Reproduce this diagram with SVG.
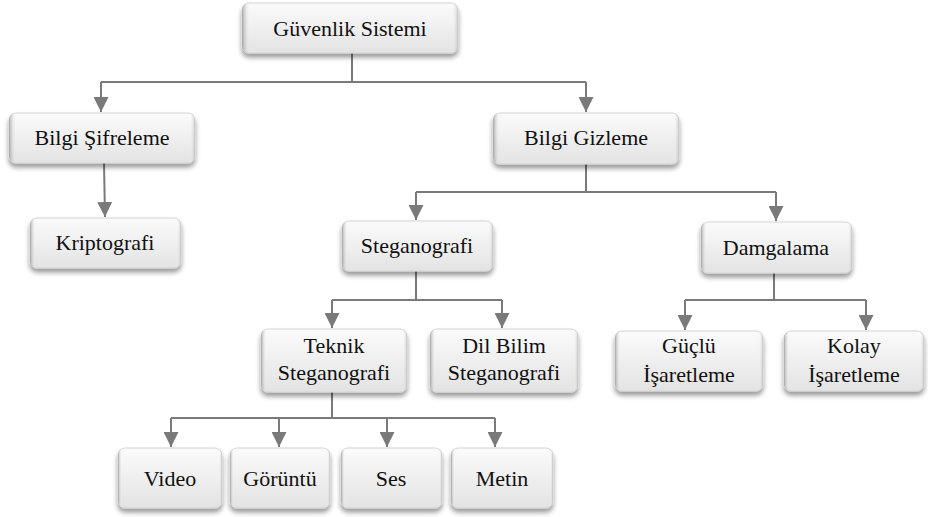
<svg xmlns="http://www.w3.org/2000/svg" width="928" height="517" viewBox="0 0 928 517">
<style>
.box{fill:url(#gv);stroke:#d4d4d4;stroke-width:1;filter:url(#sh)}
.bev{fill:url(#gh);stroke:none}
.t{font-family:"Liberation Serif","Times New Roman",serif;font-size:22px;fill:#111;text-anchor:middle}
.c{fill:none;stroke:#7a7a7a;stroke-width:2}
.a{marker-end:url(#ah)}
</style>
<defs>
<linearGradient id="gv" x1="0" y1="0" x2="0" y2="1">
<stop offset="0" stop-color="#fbfbfb"/>
<stop offset="1" stop-color="#e3e3e3"/>
</linearGradient>
<linearGradient id="gh" x1="0" y1="0" x2="1" y2="0">
<stop offset="0" stop-color="#8c8c8c" stop-opacity="0.7"/>
<stop offset="0.04" stop-color="#ffffff" stop-opacity="0"/>
<stop offset="0.97" stop-color="#ffffff" stop-opacity="0"/>
<stop offset="1" stop-color="#a0a0a0" stop-opacity="0.45"/>
</linearGradient>
<filter id="sh" x="-10%" y="-20%" width="120%" height="150%">
<feGaussianBlur in="SourceAlpha" stdDeviation="2.5"/>
<feOffset dx="0" dy="4" result="b"/>
<feComponentTransfer><feFuncA type="linear" slope="0.4"/></feComponentTransfer>
<feMerge><feMergeNode/><feMergeNode in="SourceGraphic"/></feMerge>
</filter>
<marker id="ah" viewBox="0 0 14 14" refX="14" refY="7" markerWidth="15" markerHeight="15" markerUnits="userSpaceOnUse" orient="auto">
<path d="M0,0 L14,7 L0,14 z" fill="#7a7a7a"/>
</marker>
</defs>

<g id="connectors">
<path class="c" d="M352 53 V82 M101 82 H586"/>
<path class="c a" d="M101 82 V112"/>
<path class="c a" d="M586 82 V112"/>
<path class="c a" d="M104 163 L105 217"/>
<path class="c" d="M586 164 V192 M416 192 H776"/>
<path class="c a" d="M416 192 V220"/>
<path class="c a" d="M776 192 V221"/>
<path class="c" d="M416 271 V300 M332 300 H502"/>
<path class="c a" d="M332 300 V328"/>
<path class="c a" d="M502 300 V328"/>
<path class="c" d="M774 273 V300 M685 300 H866"/>
<path class="c a" d="M685 300 V330"/>
<path class="c a" d="M866 300 V330"/>
<path class="c" d="M332 392 V418 M171 418 H495"/>
<path class="c a" d="M171 418 V447"/>
<path class="c a" d="M279 418 V447"/>
<path class="c a" d="M387 418 V447"/>
<path class="c a" d="M495 418 V447"/>
</g>

<g id="guvenlik-sistemi">
<rect class="box" x="242" y="3" width="216" height="50" rx="7"/>
<rect class="bev" x="242" y="3" width="216" height="50" rx="7"/>
<text class="t" x="350" y="36">Güvenlik Sistemi</text>
</g>
<g id="bilgi-sifreleme">
<rect class="box" x="9" y="113" width="186" height="50" rx="7"/>
<rect class="bev" x="9" y="113" width="186" height="50" rx="7"/>
<text class="t" x="102" y="145">Bilgi Şifreleme</text>
</g>
<g id="bilgi-gizleme">
<rect class="box" x="493" y="113" width="186" height="51" rx="7"/>
<rect class="bev" x="493" y="113" width="186" height="51" rx="7"/>
<text class="t" x="586" y="145">Bilgi Gizleme</text>
</g>
<g id="kriptografi">
<rect class="box" x="30" y="218" width="151" height="50" rx="7"/>
<rect class="bev" x="30" y="218" width="151" height="50" rx="7"/>
<text class="t" x="105" y="250">Kriptografi</text>
</g>
<g id="steganografi">
<rect class="box" x="342" y="221" width="151" height="50" rx="7"/>
<rect class="bev" x="342" y="221" width="151" height="50" rx="7"/>
<text class="t" x="417" y="253">Steganografi</text>
</g>
<g id="damgalama">
<rect class="box" x="701" y="222" width="151" height="51" rx="7"/>
<rect class="bev" x="701" y="222" width="151" height="51" rx="7"/>
<text class="t" x="776" y="255">Damgalama</text>
</g>
<g id="teknik-steganografi">
<rect class="box" x="261" y="329" width="146" height="63" rx="7"/>
<rect class="bev" x="261" y="329" width="146" height="63" rx="7"/>
<text class="t" x="334" y="353">Teknik</text>
<text class="t" x="334" y="380">Steganografi</text>
</g>
<g id="dil-bilim-steganografi">
<rect class="box" x="430" y="329" width="148" height="63" rx="7"/>
<rect class="bev" x="430" y="329" width="148" height="63" rx="7"/>
<text class="t" x="504" y="353">Dil Bilim</text>
<text class="t" x="504" y="380">Steganografi</text>
</g>
<g id="guclu-isaretleme">
<rect class="box" x="615" y="331" width="148" height="60" rx="7"/>
<rect class="bev" x="615" y="331" width="148" height="60" rx="7"/>
<text class="t" x="689" y="353">Güçlü</text>
<text class="t" x="689" y="382">İşaretleme</text>
</g>
<g id="kolay-isaretleme">
<rect class="box" x="784" y="331" width="140" height="60" rx="7"/>
<rect class="bev" x="784" y="331" width="140" height="60" rx="7"/>
<text class="t" x="854" y="353">Kolay</text>
<text class="t" x="854" y="382">İşaretleme</text>
</g>
<g id="video">
<rect class="box" x="118" y="448" width="104" height="60" rx="7"/>
<rect class="bev" x="118" y="448" width="104" height="60" rx="7"/>
<text class="t" x="170" y="486">Video</text>
</g>
<g id="goruntu">
<rect class="box" x="230" y="448" width="100" height="60" rx="7"/>
<rect class="bev" x="230" y="448" width="100" height="60" rx="7"/>
<text class="t" x="280" y="486">Görüntü</text>
</g>
<g id="ses">
<rect class="box" x="341" y="448" width="101" height="60" rx="7"/>
<rect class="bev" x="341" y="448" width="101" height="60" rx="7"/>
<text class="t" x="391" y="486">Ses</text>
</g>
<g id="metin">
<rect class="box" x="451" y="448" width="102" height="60" rx="7"/>
<rect class="bev" x="451" y="448" width="102" height="60" rx="7"/>
<text class="t" x="502" y="486">Metin</text>
</g>
</svg>
